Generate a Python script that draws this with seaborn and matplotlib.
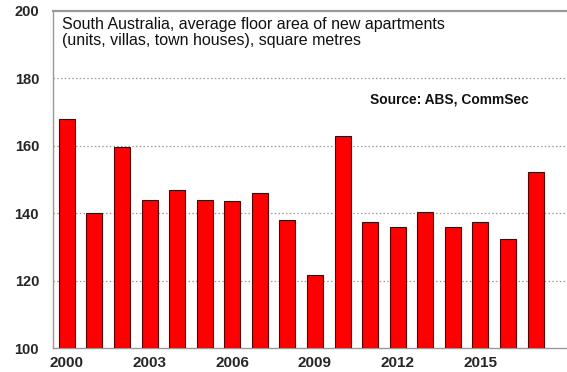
import matplotlib
matplotlib.use("Agg")
import matplotlib.pyplot as plt
import seaborn as sns
import pandas as pd

# Average floor area of new apartments, South Australia (square metres)
years = [2000, 2001, 2002, 2003, 2004, 2005, 2006, 2007, 2008,
         2009, 2010, 2011, 2012, 2013, 2014, 2015, 2016, 2017]
floor_area = [168.0, 140.0, 159.6, 143.8, 147.0, 143.9, 143.5, 146.0, 137.9,
              121.6, 162.8, 137.5, 135.9, 140.3, 135.9, 137.5, 132.4, 152.1]
tick_years = [2000, 2003, 2006, 2009, 2012, 2015]
y_ticks = [100, 120, 140, 160, 180, 200]

df = pd.DataFrame({"year": years, "area": floor_area})

sns.set_style("white")
plt.rcParams["font.family"] = ["Liberation Sans", "DejaVu Sans"]

fig = plt.figure(figsize=(5.67, 3.72), dpi=100)
ax = fig.add_axes([53 / 567, 1 - 348 / 372, 1 - 53 / 567 + 0.02, (348 - 11) / 372])

sns.barplot(data=df, x="year", y="area", order=years, color="#ff0000",
            width=0.58, edgecolor="#5a0000", linewidth=0.8, saturation=1,
            ax=ax, zorder=3)

ax.set_ylim(100, 200)
ax.set_xlim(-0.5, 18.55)
ax.set_yticks(y_ticks)
ax.set_yticklabels([str(v) for v in y_ticks], fontsize=10.5, fontweight="bold")
pos = [years.index(y) for y in tick_years] + [18]
ax.set_xticks(pos)
ax.set_xticklabels([str(y) for y in tick_years] + [""], fontsize=11, fontweight="bold")
ax.tick_params(axis="x", direction="in", length=4, color="#888888", pad=6)
ax.tick_params(axis="y", direction="out", length=7, color="#aaaaaa", width=0.8, pad=3)

for v in y_ticks[1:-1]:
    ax.axhline(v, color="#999999", linestyle=(0, (1.2, 1.8)), linewidth=0.9, zorder=1)

for side in ["left", "bottom", "top"]:
    ax.spines[side].set_visible(True)
    ax.spines[side].set_color("#999999")
    ax.spines[side].set_linewidth(1.0)
ax.spines["top"].set_linewidth(1.6)
ax.spines["right"].set_visible(False)

ax.set_xlabel("")
ax.set_ylabel("")

ax.text(0.017, 0.982,
        "South Australia, average floor area of new apartments\n(units, villas, town houses), square metres",
        transform=ax.transAxes, ha="left", va="top", fontsize=11.5,
        linespacing=1.05, color="#111111")
ax.text(0.906, 0.736, "Source: ABS, CommSec", transform=ax.transAxes,
        ha="right", va="center", fontsize=9.9, fontweight="bold", color="#111111")

fig.savefig("out.png", dpi=100)
